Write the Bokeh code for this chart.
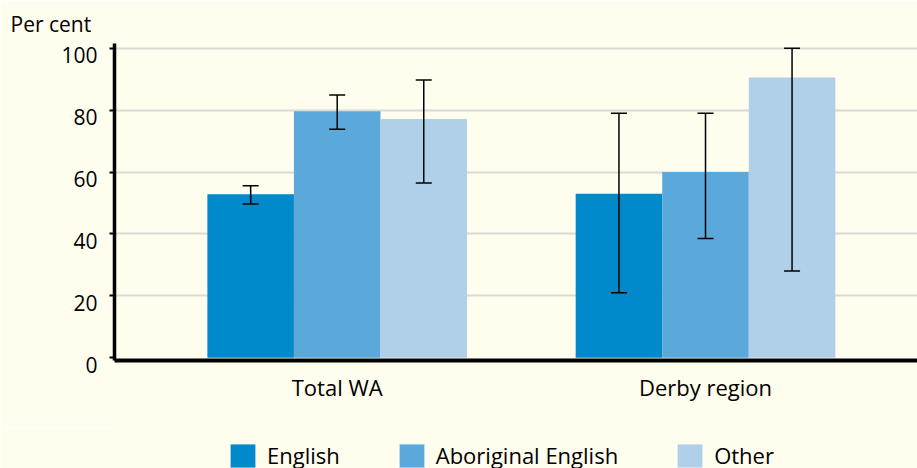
from bokeh.plotting import figure
from bokeh.layouts import column
from bokeh.models import (Range1d, FixedTicker, Whisker, ColumnDataSource, Legend,
                          LegendItem, TeeHead)
from bokeh.embed import file_html
from bokeh.resources import INLINE

categories = ["Total WA", "Derby region"]
series = ["English", "Aboriginal English", "Other"]
english = [52.8, 53.0]
english_lo = [49.7, 21.0]
english_hi = [55.6, 79.0]
aboriginal = [79.6, 60.0]
aboriginal_lo = [73.8, 38.5]
aboriginal_hi = [84.9, 79.0]
other = [77.1, 90.5]
other_lo = [56.5, 28.0]
other_hi = [89.7, 100.0]
y_ticks = [0, 20, 40, 60, 80, 100]

colors = ["#008acb", "#5aa9da", "#b0d0ea"]
BG = "#fffdee"
FONT = "Open Sans"

cat_pos = [i + 0.5 for i in range(len(categories))]
bar_w = 0.235
offsets = [-bar_w, 0.0, bar_w]

Y0, Y1 = -0.87, 101.52
p = figure(width=917, height=428, output_backend="svg", toolbar_location=None,
           x_range=Range1d(-0.1047, 2.0756), y_range=Range1d(Y0, Y1),
           min_border_left=114, min_border_right=0, min_border_top=43,
           min_border_bottom=68)
p.background_fill_color = BG
p.border_fill_color = BG
p.outline_line_color = None

values = [english, aboriginal, other]
los = [english_lo, aboriginal_lo, other_lo]
his = [english_hi, aboriginal_hi, other_hi]

for k, name in enumerate(series):
    xs = [c + offsets[k] for c in cat_pos]
    src = ColumnDataSource(dict(x=xs, top=values[k], lower=los[k], upper=his[k]))
    p.vbar(x="x", top="top", bottom=0, width=bar_w, source=src,
           fill_color=colors[k], line_color=None)
    w = Whisker(base="x", lower="lower", upper="upper", source=src, level="overlay",
                line_color="black", line_width=1.5,
                upper_head=TeeHead(size=16, line_color="black", line_width=1.5),
                lower_head=TeeHead(size=16, line_color="black", line_width=1.5))
    p.add_layout(w)

# x axis
p.xaxis.ticker = FixedTicker(ticks=cat_pos)
p.xaxis.major_label_overrides = {c: lab for c, lab in zip(cat_pos, categories)}
p.xaxis.axis_line_width = 4
p.xaxis.axis_line_color = "black"
p.xaxis.major_tick_line_color = None
p.xaxis.minor_tick_line_color = None
p.xaxis.major_tick_out = 0
p.xaxis.major_tick_in = 0
p.xaxis.major_label_standoff = 11
p.xaxis.major_label_text_font = FONT
p.xaxis.major_label_text_font_size = "22px"
p.xaxis.major_label_text_color = "black"

# y axis (labels sit just below their tick, as in the original)
p.yaxis.ticker = FixedTicker(ticks=y_ticks)
p.yaxis.major_label_overrides = {t: "\n" + str(t) for t in y_ticks}
p.yaxis.major_label_text_line_height = 0.5
p.yaxis.axis_line_width = 3.5
p.yaxis.axis_line_color = "black"
p.yaxis.major_tick_line_color = "black"
p.yaxis.major_tick_line_width = 2
p.yaxis.major_tick_out = 5
p.yaxis.major_tick_in = 0
p.yaxis.minor_tick_line_color = None
p.yaxis.major_label_standoff = 12
p.yaxis.major_label_text_font = FONT
p.yaxis.major_label_text_font_size = "21px"
p.yaxis.major_label_text_color = "black"

p.xgrid.grid_line_color = None
p.ygrid.ticker = FixedTicker(ticks=y_ticks[1:])
p.ygrid.grid_line_color = "#d9d9d6"
p.ygrid.grid_line_width = 2

p.title.text = "Per cent"
p.title.align = "left"
p.title.offset = -104
p.title.standoff = 12
p.title.text_font = FONT
p.title.text_font_size = "21px"
p.title.text_font_style = "normal"
p.title.text_color = "black"

# legend strip below the chart (its frame is aligned with the chart frame)
lg = figure(width=917, height=40, output_backend="svg", toolbar_location=None,
            x_range=Range1d(0, 1), y_range=Range1d(0, 1),
            x_axis_type=None, y_axis_type=None,
            min_border_left=0, min_border_right=0, min_border_top=0,
            min_border_bottom=0)
lg.background_fill_color = BG
lg.border_fill_color = BG
lg.outline_line_color = None
items = []
for k, name in enumerate(series):
    key_src = ColumnDataSource(dict(x=[-1.0], top=[0.0]))
    r = lg.vbar(x="x", top="top", width=0.1, source=key_src,
                fill_color=colors[k], line_color=None)
    items.append(LegendItem(label=name, renderers=[r]))

legend = Legend(items=items, orientation="horizontal", location=(113, -2),
                glyph_width=31, glyph_height=29, label_standoff=9, spacing=56,
                padding=0, margin=0, border_line_color=None,
                background_fill_alpha=0, label_text_font=FONT,
                label_text_font_size="22px", label_text_color="black")
lg.add_layout(legend, "center")

page = column(p, lg, spacing=0)
open("out.html", "w").write(file_html(page, INLINE))
